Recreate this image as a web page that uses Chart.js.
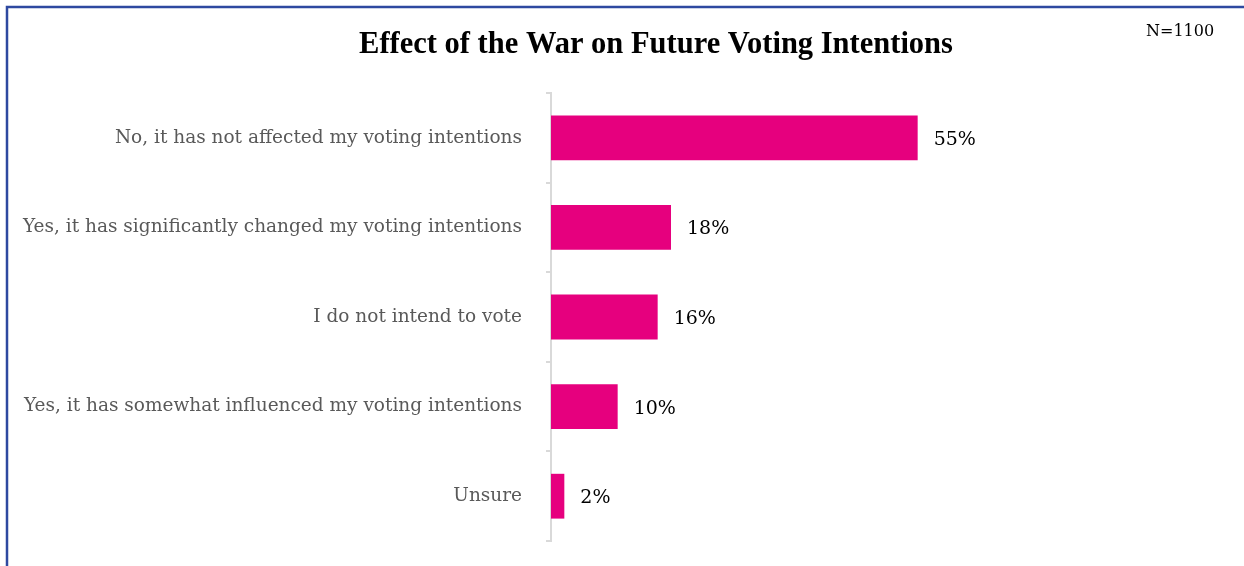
<!DOCTYPE html>
<html>
<head>
<meta charset="utf-8">
<script src="https://cdn.jsdelivr.net/npm/chart.js@4/dist/chart.umd.min.js"></script>
<style>
  html, body { margin: 0; padding: 0; background: #fff; }
  #wrap { position: relative; width: 1244px; height: 566px; }
</style>
</head>
<body>
<div id="wrap"><canvas id="votingChart" width="1244" height="566"></canvas></div>
<script>
// Survey: effect of the war on future voting intentions
const answers = [
  'No, it has not affected my voting intentions',
  'Yes, it has significantly changed my voting intentions',
  'I do not intend to vote',
  'Yes, it has somewhat influenced my voting intentions',
  'Unsure'
];
const shares = [55, 18, 16, 10, 2];
const chartTitle = 'Effect of the War on Future Voting Intentions';
const sampleNote = 'N=1100';

const PINK = '#E6007E';
const AXIS_GREY = '#D9D9D9';
const LEFT_EDGE = 551;

// frame, title, sample size and the % labels next to each bar
const decorations = {
  id: 'decorations',
  beforeDraw(chart) {
    const ctx = chart.ctx;
    ctx.save();
    ctx.fillStyle = '#fff';
    ctx.fillRect(0, 0, chart.width, chart.height);
    ctx.strokeStyle = '#2E49A0';
    ctx.lineWidth = 2.5;
    ctx.beginPath();
    ctx.moveTo(7, chart.height);
    ctx.lineTo(7, 7);
    ctx.lineTo(chart.width, 7);
    ctx.stroke();
    ctx.restore();
  },
  afterDraw(chart) {
    const ctx = chart.ctx;
    ctx.save();
    ctx.fillStyle = '#000';
    ctx.textBaseline = 'alphabetic';
    ctx.textAlign = 'center';
    ctx.font = 'bold 30.5px "Liberation Serif"';
    ctx.fillText(chartTitle, 656, 53);

    ctx.textAlign = 'left';
    ctx.font = '16px "DejaVu Serif"';
    ctx.fillText(sampleNote, 1146, 36);

    ctx.font = '19px "DejaVu Serif"';
    ctx.textBaseline = 'middle';
    const meta = chart.getDatasetMeta(0);
    meta.data.forEach((bar, i) => {
      ctx.fillText(shares[i] + '%', bar.x + 16, bar.y + 2);
    });
    ctx.restore();
  }
};

new Chart(document.getElementById('votingChart'), {
  type: 'bar',
  data: {
    labels: answers,
    datasets: [{
      data: shares,
      backgroundColor: PINK,
      borderWidth: 0,
      barPercentage: 0.5,
      categoryPercentage: 1.0
    }]
  },
  options: {
    indexAxis: 'y',
    responsive: false,
    animation: false,
    layout: { padding: { left: 0, top: 93, right: 293, bottom: 25 } },
    plugins: {
      legend: { display: false },
      tooltip: { enabled: false }
    },
    scales: {
      x: {
        display: false, min: 0, max: 60,
        afterFit(scale) { scale.height = 0; }
      },
      y: {
        afterFit(scale) {
          scale.width = LEFT_EDGE;
          scale.paddingTop = 0;
          scale.paddingBottom = 0;
        },
        grid: {
          drawOnChartArea: false,
          drawTicks: true,
          tickLength: 5,
          color: AXIS_GREY,
          lineWidth: 2
        },
        border: { display: true, color: AXIS_GREY, width: 2 },
        ticks: {
          padding: 24,
          color: '#595959',
          font: { family: '"DejaVu Serif"', size: 18.5 }
        }
      }
    }
  },
  plugins: [decorations]
});
</script>
</body>
</html>
